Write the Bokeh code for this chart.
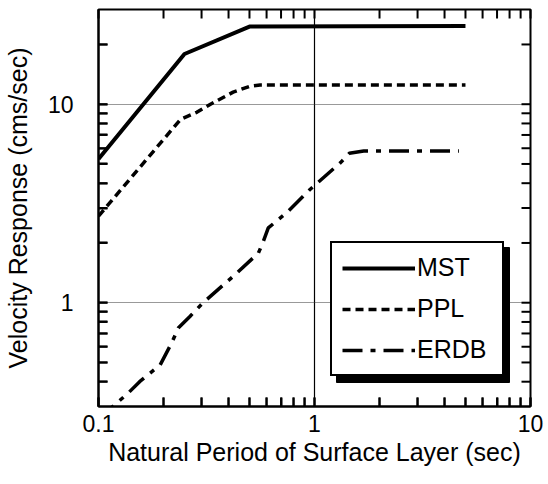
from bokeh.plotting import figure
from bokeh.models import (FixedTicker, CustomJSTickFormatter, Legend,
                          LegendItem, Range1d, BoxAnnotation)
from bokeh.embed import file_html
from bokeh.resources import INLINE

# ---- data ----
period_mst = [0.1, 0.25, 0.5, 5.0]
vel_mst = [5.3, 17.9, 24.6, 24.8]

period_ppl = [0.1, 0.24, 0.285, 0.33, 0.42, 0.5, 0.56, 5.0]
vel_ppl = [2.73, 8.4, 9.1, 10.0, 11.5, 12.3, 12.5, 12.5]

period_erdb = [0.1, 0.137, 0.155, 0.193, 0.218, 0.234, 0.265, 0.305, 0.421,
               0.55, 0.58, 0.611, 0.743, 0.953, 1.32, 1.45, 1.69, 4.66]
vel_erdb = [0.26, 0.35, 0.40, 0.486, 0.626, 0.745, 0.853, 1.0, 1.36,
            1.78, 2.04, 2.38, 2.84, 3.72, 5.08, 5.66, 5.81, 5.81]

series_labels = ["MST", "PPL", "ERDB"]

x_ticks = [0.1, 1, 10]
x_minor = [0.2, 0.3, 0.4, 0.5, 0.6, 0.7, 0.8, 0.9, 2, 3, 4, 5, 6, 7, 8, 9]
y_ticks = [1, 10]
y_minor = [0.4, 0.5, 0.6, 0.7, 0.8, 0.9, 2, 3, 4, 5, 6, 7, 8, 9, 20]

FONT = "Liberation Sans"
X_LO, X_HI = 0.1, 10
Y_LO, Y_HI = 0.3, 30
W, H = 548, 484
B_LEFT, B_RIGHT, B_TOP, B_BOTTOM = 98, 18, 9, 78

p = figure(width=W, height=H, x_axis_type="log", y_axis_type="log",
           x_range=Range1d(X_LO, X_HI), y_range=Range1d(Y_LO, Y_HI),
           output_backend="svg", toolbar_location=None,
           min_border_left=B_LEFT, min_border_right=B_RIGHT,
           min_border_top=B_TOP, min_border_bottom=B_BOTTOM)
p.background_fill_color = "white"
p.border_fill_color = "white"
p.outline_line_color = "black"
p.outline_line_width = 2

fmt = CustomJSTickFormatter(code="return String(tick)")
TL = 9


def style_axis(ax, ticks, minor):
    ax.ticker = FixedTicker(ticks=ticks, minor_ticks=minor)
    ax.formatter = fmt
    ax.axis_line_color = "black"
    ax.axis_line_width = 2
    ax.major_tick_in = TL
    ax.major_tick_out = 0
    ax.minor_tick_in = TL
    ax.minor_tick_out = 0
    ax.major_tick_line_color = "black"
    ax.minor_tick_line_color = "black"
    ax.major_tick_line_width = 2
    ax.minor_tick_line_width = 2
    ax.major_label_text_font = FONT
    ax.major_label_text_font_size = "23px"
    ax.major_label_text_color = "black"
    ax.axis_label_text_font = FONT
    ax.axis_label_text_font_size = "25px"
    ax.axis_label_text_font_style = "normal"
    ax.axis_label_text_color = "black"


xax = p.xaxis[0]
style_axis(xax, x_ticks, x_minor)
xax.axis_label = "Natural Period of Surface Layer (sec)"
xax.major_label_standoff = 8
xax.axis_label_standoff = 3

yax = p.yaxis[0]
style_axis(yax, y_ticks, y_minor)
yax.axis_label = "Velocity Response (cms/sec)"
yax.major_label_standoff = 25
yax.major_label_orientation = "horizontal"
yax.axis_label_standoff = 13

p.xgrid.ticker = FixedTicker(ticks=[1])
p.xgrid.grid_line_color = "black"
p.xgrid.grid_line_width = 1.2
p.ygrid.ticker = FixedTicker(ticks=y_ticks)
p.ygrid.grid_line_color = "#333333"
p.ygrid.grid_line_width = 1.2
p.ygrid.grid_line_dash = "1 1"

# inward ticks on all four edges, drawn on the overlay level
frame_w = W - B_LEFT - B_RIGHT
frame_h = H - B_TOP - B_BOTTOM
fx = 10 ** (TL * 2.0 / frame_w)
fy = 10 ** (TL * 2.0 / frame_h)
all_x = x_minor + x_ticks
all_y = y_minor + y_ticks
tick_kw = dict(line_color="black", line_width=2, level="overlay")
p.segment(x0=all_x, x1=all_x, y0=[Y_LO] * len(all_x),
          y1=[Y_LO * fy] * len(all_x), **tick_kw)
p.segment(x0=all_x, x1=all_x, y0=[Y_HI] * len(all_x),
          y1=[Y_HI / fy] * len(all_x), **tick_kw)
p.segment(x0=[X_LO] * len(all_y), x1=[X_LO * fx] * len(all_y),
          y0=all_y, y1=all_y, **tick_kw)
p.segment(x0=[X_HI] * len(all_y), x1=[X_HI / fx] * len(all_y),
          y0=all_y, y1=all_y, **tick_kw)

r1 = p.line(period_mst, vel_mst, line_color="black", line_width=4)
r2 = p.line(period_ppl, vel_ppl, line_color="black", line_width=3.5,
            line_dash="8 5")
r3 = p.line(period_erdb, vel_erdb, line_color="black", line_width=3.5,
            line_dash="20 8 5 8")
renderers = [r1, r2, r3]

# legend shadow (screen units, relative to the plot frame)
shadow = BoxAnnotation(left=238, right=411, bottom=24, top=159,
                       left_units="screen", right_units="screen",
                       bottom_units="screen", top_units="screen",
                       fill_color="black", fill_alpha=1.0,
                       line_color="black", line_alpha=1.0)
p.add_layout(shadow)

items = [LegendItem(label=lab, renderers=[r]) for lab, r in zip(series_labels, renderers)]
legend = Legend(items=items, location=(232, 30), margin=0, padding=10,
                spacing=12, glyph_width=73, glyph_height=24, label_height=24,
                label_width=75, label_standoff=2,
                label_text_font=FONT, label_text_font_size="25px",
                label_text_color="black",
                border_line_color="black", border_line_width=2.5,
                border_line_alpha=1.0,
                background_fill_color="white", background_fill_alpha=1.0)
p.add_layout(legend, "center")

open("out.html", "w").write(file_html(p, INLINE))
